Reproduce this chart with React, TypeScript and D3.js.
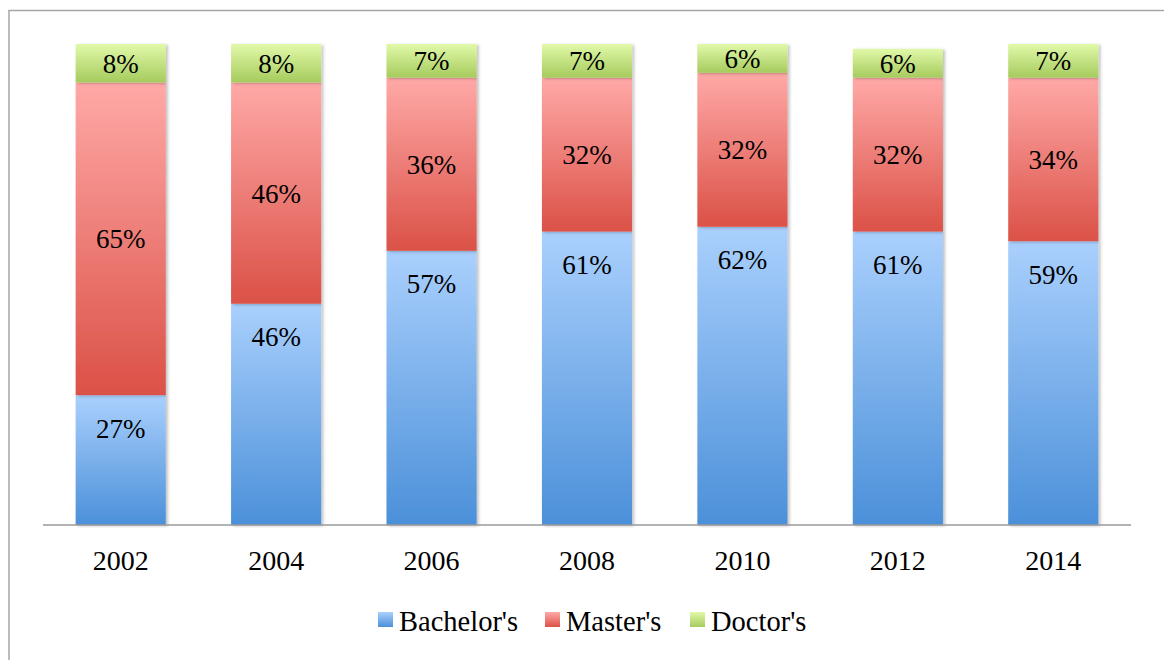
import React from "react";
import * as d3 from "d3";

const years = ["2002", "2004", "2006", "2008", "2010", "2012", "2014"];
const bachelors = [27, 46, 57, 61, 62, 61, 59];
const masters = [65, 46, 36, 32, 32, 32, 34];
const doctors = [8, 8, 7, 7, 6, 6, 7];
const seriesNames = ["Bachelor's", "Master's", "Doctor's"];
const yMax = 100;

const gradients = [
  { id: "gBlue", top: "#aad0fd", bottom: "#4b90d9" },
  { id: "gRed", top: "#ffa9a7", bottom: "#db5147" },
  { id: "gGreen", top: "#e1f9a9", bottom: "#a6cb5d" },
];

export default function App() {
  const W = 1164, H = 660;
  const left = 43, right = 1131, baseY = 525, topY = 44;
  const x = d3.scaleBand<string>().domain(years).range([left, right]).paddingInner(0.42).paddingOuter(0.21);
  const y = d3.scaleLinear().domain([0, yMax]).range([baseY, topY]);
  const table = years.map((yr, i) => ({ year: yr, b: bachelors[i], m: masters[i], d: doctors[i] }));
  const stack = d3.stack<any>().keys(["b", "m", "d"])(table);
  const font = "'Liberation Serif', 'Times New Roman', serif";
  const legendX = [378, 545, 690];

  return (
    <svg width={W} height={H} style={{ position: "absolute", left: 0, top: 0 }} fontFamily={font}>
      <defs>
        {gradients.map((g) => (
          <linearGradient key={g.id} id={g.id} x1="0" y1="0" x2="0" y2="1">
            <stop offset="0%" stopColor={g.top} />
            <stop offset="100%" stopColor={g.bottom} />
          </linearGradient>
        ))}
        <filter id="shadow" x="-10%" y="-10%" width="130%" height="130%">
          <feDropShadow dx="2" dy="1" stdDeviation="1.5" floodColor="#000" floodOpacity="0.25" />
        </filter>
      </defs>
      <rect x={0} y={0} width={W} height={H} fill="#fff" />
      <path d={`M9,${H + 5} L9,10.5 L${W + 5},10.5`} fill="none" stroke="#a6a6a6" strokeWidth={1.5} />
      {stack.map((layer, si) => (
        <g key={si}>
          {layer.map((seg: any, i: number) => (
            <rect
              key={i}
              x={x(years[i])}
              y={y(seg[1])}
              width={x.bandwidth()}
              height={y(seg[0]) - y(seg[1])}
              fill={`url(#${gradients[si].id})`}
              filter="url(#shadow)"
            />
          ))}
        </g>
      ))}
      {stack.map((layer, si) => (
        <g key={"t" + si}>
          {layer.map((seg: any, i: number) => (
            <text
              key={i}
              x={(x(years[i]) as number) + x.bandwidth() / 2}
              y={si === 0 ? y(seg[1]) + 33 : (y(seg[0]) + y(seg[1])) / 2}
              dy="0.35em"
              textAnchor="middle"
              fontSize={27}
              fill="#000"
            >
              {seg[1] - seg[0]}%
            </text>
          ))}
        </g>
      ))}
      <line x1={left} x2={right} y1={baseY} y2={baseY} stroke="#9a9a9a" strokeWidth={1.5} />
      {years.map((yr) => (
        <text key={yr} x={(x(yr) as number) + x.bandwidth() / 2} y={570} textAnchor="middle" fontSize={28} fill="#000">
          {yr}
        </text>
      ))}
      {seriesNames.map((n, i) => (
        <g key={n}>
          <rect x={legendX[i]} y={612} width={15} height={15} fill={`url(#${gradients[i].id})`} />
          <text x={legendX[i] + 21} y={631} fontSize={28.5} fill="#000">
            {n}
          </text>
        </g>
      ))}
    </svg>
  );
}
